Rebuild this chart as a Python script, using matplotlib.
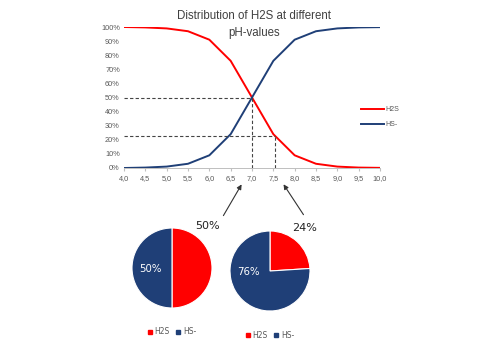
import matplotlib
matplotlib.use("Agg")
import matplotlib.pyplot as plt
from matplotlib.ticker import FuncFormatter

ph = [4.0, 4.5, 5.0, 5.5, 6.0, 6.5, 7.0, 7.5, 8.0, 8.5, 9.0, 9.5, 10.0]
h2s = [100, 99.7, 99, 97, 91, 76, 50, 24, 9, 3, 1, 0.3, 0.1]
hs = [0, 0.3, 1, 3, 9, 24, 50, 76, 91, 97, 99, 99.7, 99.9]
xticks = [4.0, 4.5, 5.0, 5.5, 6.0, 6.5, 7.0, 7.5, 8.0, 8.5, 9.0, 9.5, 10.0]
yticks = [0, 10, 20, 30, 40, 50, 60, 70, 80, 90, 100]
pie_labels = ["H2S", "HS-"]
pie1 = [50, 50]
pie2 = [24, 76]
guide_a = (7.0, 50)
guide_b = (7.55, 23)

RED = "#ff0000"
BLUE = "#1f3f77"
W, H = 485, 360

fig = plt.figure(figsize=(4.85, 3.6), dpi=100)
plt.rcParams['font.family'] = ['Liberation Sans', 'DejaVu Sans']

def ax_px(l, t, r, b):
    return fig.add_axes([l / W, 1 - b / H, (r - l) / W, (b - t) / H])

ax = ax_px(124, 27, 380, 168)
ax.plot(ph, h2s, color=RED, lw=1.4, label="H2S")
ax.plot(ph, hs, color=BLUE, lw=1.4, label="HS-")
for (gx, gy) in (guide_a, guide_b):
    ax.plot([4.0, gx], [gy, gy], color="#444444", lw=0.8, ls=(0, (3, 2)))
    ax.plot([gx, gx], [0, gy], color="#444444", lw=0.8, ls=(0, (3, 2)))
ax.set_xlim(4.0, 10.0)
ax.set_ylim(0, 100)
ax.set_xticks(xticks)
ax.set_xticklabels([f"{v:.1f}".replace(".", ",") for v in xticks])
ax.set_yticks(yticks)
ax.yaxis.set_major_formatter(FuncFormatter(lambda v, p: f"{int(v)}%"))
for s in ("top", "right", "left"):
    ax.spines[s].set_visible(False)
ax.spines["bottom"].set_color("#bfbfbf")
ax.spines["bottom"].set_linewidth(0.7)
ax.tick_params(axis="both", labelsize=5.3, colors="#595959", length=0, pad=3)
ax.tick_params(axis="x", length=2, color="#bfbfbf")
ax.patch.set_alpha(0)
fig.text(254 / W, 1 - 24.5 / H, "Distribution of H2S at different\npH-values",
         ha="center", va="center", fontsize=8.3, color="#404040", linespacing=1.45)
leg = ax.legend(loc="center left", bbox_to_anchor=(0.9, 0.36), frameon=False,
                fontsize=5, handlelength=3.3, labelspacing=1.2, handletextpad=0.2)
for t in leg.get_texts():
    t.set_color("#595959")

# arrows
fig.patches.append(matplotlib.patches.FancyArrowPatch(
    (222 / W, 1 - 218 / H), (243 / W, 1 - 182 / H), transform=fig.transFigure,
    arrowstyle="-|>", mutation_scale=7, color="#333333", lw=0.8))
fig.patches.append(matplotlib.patches.FancyArrowPatch(
    (305 / W, 1 - 217 / H), (282 / W, 1 - 182 / H), transform=fig.transFigure,
    arrowstyle="-|>", mutation_scale=7, color="#333333", lw=0.8))

def draw_pie(cx, cy, r, vals, inner_lbl, outer_lbl, outer_xy, leg_y):
    pax = ax_px(cx - r, cy - r, cx + r, cy + r)
    pax.pie(vals, colors=[RED, BLUE], startangle=90, counterclock=False,
            wedgeprops=dict(edgecolor="white", linewidth=0.8))
    pax.set_aspect("equal")
    pax.set_xlim(-1, 1)
    pax.set_ylim(-1, 1)
    pax.text(-0.55, -0.03, inner_lbl, color="white", fontsize=7.3, ha="center",
             va="center", family="DejaVu Sans")
    fig.text(outer_xy[0] / W, 1 - outer_xy[1] / H, outer_lbl, fontsize=8,
             ha="center", va="center", family="DejaVu Sans", color="#222222")
    handles = [matplotlib.lines.Line2D([], [], ls="", marker="s", ms=2.2, color=c)
               for c in (RED, BLUE)]
    lg = fig.legend(handles, pie_labels, loc="center", bbox_to_anchor=(cx / W, 1 - leg_y / H),
                    ncol=2, frameon=False, handlelength=0.6,
                    handletextpad=0.3, columnspacing=0.8,
                    prop=dict(family="DejaVu Sans", size=5.5))
    for t in lg.get_texts():
        t.set_color("#595959")

draw_pie(172, 268, 40, pie1, "50%", "50%", (208, 226), 332)
draw_pie(270, 271, 40, pie2, "76%", "24%", (305, 228), 335)

fig.savefig("out.png", dpi=100)
